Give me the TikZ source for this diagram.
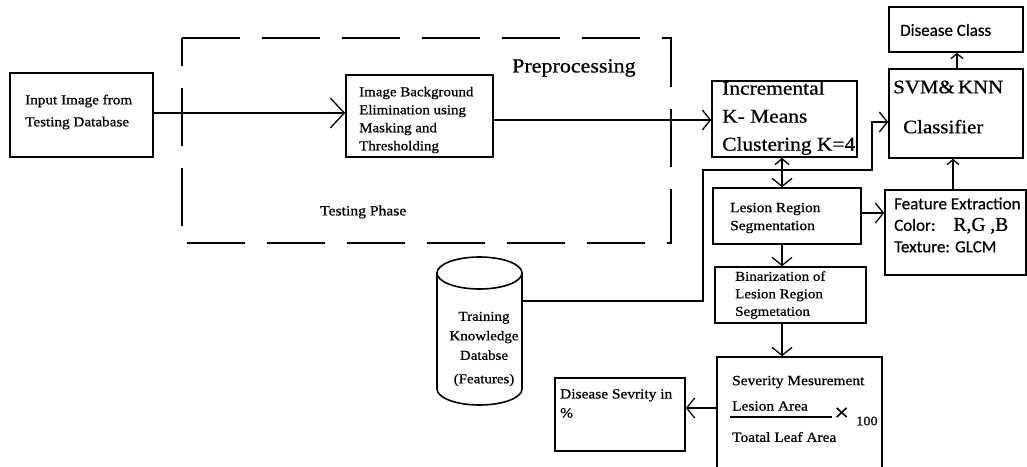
\documentclass[tikz,border=0pt]{standalone}
\usepackage{fontspec}
\setmainfont{Liberation Serif}[FakeStretch=1.1,FakeBold=0.8]
\newfontfamily\calfont{Carlito}[FakeBold=0.6]
\newfontfamily\rgbfont{Liberation Serif}[FakeBold=0.6]
\usetikzlibrary{arrows.meta}
\newcommand{\fs}[2]{\fontsize{#1}{#2}\selectfont}
\tikzset{
  box/.style={draw, line width=1.6pt, inner sep=0pt},
  arr/.style={line width=1.3pt, -{Straight Barb[length=8pt,width=20pt]}},
  smallarr/.style={line width=1.3pt, -{Straight Barb[length=5pt,width=12pt]}},
  bigarr/.style={line width=1.3pt, -{Straight Barb[length=14pt,width=30pt]}},
  txt/.style={inner sep=0pt, anchor=west, align=left},
  ctxt/.style={inner sep=0pt, align=center},
  phase/.style={draw, line width=1.6pt, dash pattern=on 58pt off 22pt},
}
\begin{document}
\begin{tikzpicture}[x=1pt,y=-1pt]
\useasboundingbox (0,0) rectangle (1027,466);
\clip (0,0) rectangle (1027,466);

% dashed testing phase frame
\draw[phase] (182,38) -- (671,38) -- (671,243) -- (182,243) -- cycle;
\node[txt, font=\fs{20}{24}] (pre) at (512,68) {Preprocessing};
\node[txt, font=\fs{14.2}{18}] (testing) at (320,212) {Testing Phase};

% boxes
\node[box, minimum width=143pt, minimum height=84pt] (input) at (81.5,115) {};
\node[txt, font=\fs{13.8}{22}] (tinput) at (25,112) {Input Image from\\Testing Database};

\node[box, minimum width=147pt, minimum height=82pt] (image) at (419.5,116) {};
\node[txt, font=\fs{13.6}{18}] (timage) at (359,120) {Image Background\\Elimination using\\Masking and\\Thresholding};

\node[box, minimum width=145pt, minimum height=76pt] (kmeans) at (784.5,119) {};
\node[txt, font=\fs{19.5}{28}] (tkmeans) at (722,118) {Incremental\\K- Means\\Clustering K=4};

\node[box, minimum width=134pt, minimum height=89pt] (svm) at (956,113.5) {};
\node[txt, font=\fs{19}{40}] (tsvm) at (893,107) {SVM\&\,KNN\\\hspace{10pt}Classifier};

\node[box, minimum width=134pt, minimum height=45pt] (dclass) at (956,29.5) {};
\node[txt, font=\calfont\fs{17}{20}] (tdclass) at (900,30) {Disease Class};

\node[box, minimum width=148pt, minimum height=56pt] (lesion) at (787,216) {};
\node[txt, font=\fs{14}{18}] (tlesion) at (730,218) {Lesion Region\\Segmentation};

\node[box, minimum width=141pt, minimum height=85pt] (feature) at (955.5,232.5) {};
\node[txt, font=\calfont\fs{17}{21.5}] (tfeature) at (894,225) {Feature Extraction\\Color:\hspace{18pt}{\rgbfont\fs{19.5}{21.5}R,G ,B}\\Texture: GLCM};

\node[box, minimum width=151pt, minimum height=56pt] (binar) at (790.5,295) {};
\node[txt, font=\fs{13.6}{17.5}] (tbinar) at (735,295) {Binarization of\\Lesion Region\\Segmetation};

\node[box, minimum width=165pt, minimum height=120pt] (sev) at (799.5,417) {};
\node[txt, font=\fs{14}{18}] (tsev1) at (732,382) {Severity Mesurement};
\node[txt, font=\fs{14}{18}] (tsev2) at (732,406) {Lesion Area};
\draw[line width=1.6pt] (730,417) -- (832,417);
\node[txt, font=\fs{24}{24}] (tx) at (834,414) {×};
\node[txt, font=\fs{13}{18}] (t100) at (856,421) {100};
\node[txt, font=\fs{14}{18}] (tsev3) at (732,437) {Toatal Leaf Area};

\node[box, minimum width=130pt, minimum height=73pt] (dsev) at (620,414.5) {};
\node[inner sep=0pt, anchor=north west, align=left, font=\fs{14}{19}] (tdsev) at (560,389) {Disease Sevrity in\\\%};

% database cylinder
\draw[line width=1.6pt] (437,273) -- (437,389) arc[start angle=180, end angle=0, x radius=42.5, y radius=16] -- (522,273);
\draw[line width=1.6pt] (479.5,273) ellipse[x radius=42.5, y radius=16];
\node[ctxt, font=\fs{13.6}{19.5}] (db) at (484,349) {Training\\Knowledge\\Databse\\[4pt](Features)};
\coordinate (dbout) at (522,301);

% connectors
\draw[bigarr] (input.east |- 0,113) -- (image.west |- 0,113);
\draw[arr] (image.east |- 0,120) -- (kmeans.west |- 0,120);
\draw[line width=1.3pt, {Straight Barb[length=6pt,width=14pt]}-{Straight Barb[length=8pt,width=20pt]}] (kmeans.south -| 782,0) -- (lesion.north -| 782,0);
\draw[arr] (lesion.south -| 782,0) -- (binar.north -| 782,0);
\draw[arr] (binar.south -| 782,0) -- (sev.north -| 782,0);
\draw[arr] (sev.west |- 0,408) -- (dsev.east |- 0,408);
\draw[arr] (lesion.east |- 0,213) -- (feature.west |- 0,213);
\draw[smallarr] (feature.north -| 953,0) -- (svm.south -| 953,0);
\draw[smallarr] (svm.north -| 957,0) -- (dclass.south -| 957,0);
\draw[arr] (dbout) -| (703,170) -| (872,122) -- (svm.west |- 0,122);
\end{tikzpicture}
\end{document}
